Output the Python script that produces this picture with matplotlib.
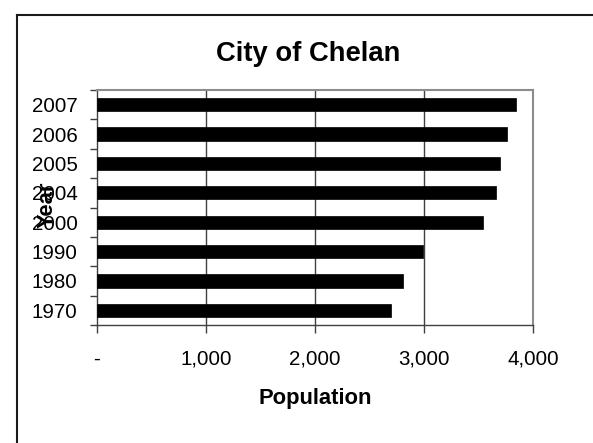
import matplotlib
matplotlib.use("Agg")
import matplotlib.pyplot as plt
from matplotlib.lines import Line2D
import numpy as np

plt.rcParams['font.family'] = ['Liberation Sans', 'DejaVu Sans']

# data
years = ["1970", "1980", "1990", "2000", "2004", "2005", "2006", "2007"]
population = [2695, 2811, 2989, 3537, 3656, 3693, 3764, 3847]
x_ticks = [0, 1000, 2000, 3000, 4000]
x_tick_labels = ["-", "1,000", "2,000", "3,000", "4,000"]

W, H = 593, 443
fig = plt.figure(figsize=(W / 100, H / 100), dpi=100)
fig.patch.set_facecolor("white")

ax = fig.add_axes([97 / W, 1 - 325 / H, 436 / W, 235 / H])
pos = np.arange(len(years))
ax.barh(pos, population, height=0.45, color="black", edgecolor="black",
        linewidth=0.5, zorder=3)

ax.set_xlim(0, 4000)
ax.set_ylim(-0.5, len(years) - 0.5)

# x axis
ax.set_xticks(x_ticks)
ax.set_xticklabels(x_tick_labels, fontsize=14.8)
ax.tick_params(axis="x", direction="out", length=5.5, width=1,
               color="#404040", pad=12)
for x in x_ticks[1:-1]:
    ax.axvline(x, color="#404040", linewidth=1, zorder=1)

# y axis: ticks between categories, labels at the centres
ax.set_yticks(np.arange(-0.5, len(years), 1.0))
ax.set_yticklabels([])
ax.set_yticks(pos, minor=True)
ax.set_yticklabels(years, minor=True, fontsize=14.8)
ax.tick_params(axis="y", which="major", direction="out", length=5,
               width=1, color="#404040")
ax.tick_params(axis="y", which="minor", length=0, pad=14)

for side in ("left", "bottom"):
    ax.spines[side].set_color("#404040")
    ax.spines[side].set_linewidth(1)
for side in ("top", "right"):
    ax.spines[side].set_color("#8c8c8c")
    ax.spines[side].set_linewidth(1.5)

ax.set_xlabel("Population", fontsize=15.8, fontweight="bold", labelpad=14)
fig.text(47 / W, 1 - 205 / H, "Year", rotation=90, fontsize=15.8,
         fontweight="bold", ha="center", va="center")

fig.text(308.5 / W, 1 - 61 / H, "City of Chelan", fontsize=19.7,
         fontweight="bold", ha="center", va="baseline")

# outer chart border (only top and left visible)
fig.add_artist(Line2D([16.5 / W, 16.5 / W], [0, 1 - 14.5 / H],
                      transform=fig.transFigure, color="#1a1a1a", linewidth=1.5))
fig.add_artist(Line2D([16.5 / W, 1], [1 - 14.5 / H, 1 - 14.5 / H],
                      transform=fig.transFigure, color="#1a1a1a", linewidth=1.5))

fig.savefig("out.png", dpi=100)
